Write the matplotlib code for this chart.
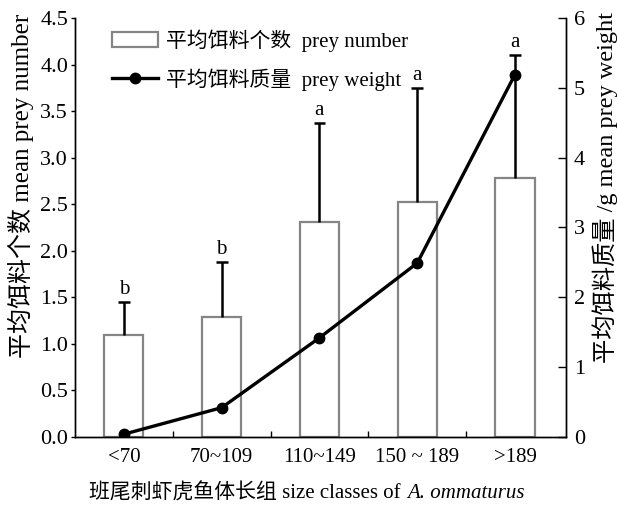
import matplotlib
matplotlib.use("Agg")
import matplotlib.pyplot as plt
import numpy as np

plt.rcParams["font.family"] = ["Liberation Serif", "Noto Sans CJK SC"]

# 数据
categories = ["<70", "70~109", "110~149", "150 ~ 189", ">189"]
prey_number = [1.10, 1.29, 2.31, 2.52, 2.78]
prey_number_err = [0.35, 0.59, 1.06, 1.23, 1.32]
prey_weight = [0.04, 0.42, 1.42, 2.49, 5.19]
letters = ["b", "b", "a", "a", "a"]

x = np.arange(len(categories))
tops = np.array(prey_number) + np.array(prey_number_err)

fig = plt.figure(figsize=(6.17, 5.08), dpi=100)
ax = fig.add_axes([0.1216, 0.1398, 0.7954, 0.8248])
ax2 = ax.twinx()

ax.bar(x, prey_number, width=0.4, color="white", edgecolor="#858585", linewidth=1.6,
       label="平均饵料个数  prey number", zorder=2)
# 只画向上的误差线
ax.vlines(x, prey_number, tops, color="black", linewidth=1.8, zorder=3)
ax.hlines(tops, x - 0.06, x + 0.06, color="black", linewidth=1.8, zorder=3)
for xi, t, lab in zip(x, tops, letters):
    ax.text(xi, t + 0.03, lab, ha="center", va="bottom", fontsize=15)

ln, = ax2.plot(x, prey_weight, color="black", linewidth=2.4, marker="o", markersize=7.5,
               label="平均饵料质量  prey weight", zorder=4)

ax.set_xlim(-0.5, 4.52)
ax.set_ylim(0, 4.5)
ax2.set_ylim(0, 6)
yt = np.arange(0, 4.6, 0.5)
ax.set_yticks(yt)
ax.set_yticklabels([f"{v:.1f}" for v in yt])
ax2.set_yticks(range(7))

ax.set_xticks(x)
ax.set_xticklabels(categories)
ax.set_xticks(x[:-1] + 0.5, minor=True)
ax.tick_params(axis="x", which="major", length=0, labelsize=15, pad=8)
ax.tick_params(axis="x", which="minor", direction="in", length=4, width=1)
ax.tick_params(axis="y", direction="out", length=3, width=1, labelsize=16, pad=2)
ax2.tick_params(axis="y", direction="in", length=6, width=1, labelsize=16, pad=6)

for a in (ax, ax2):
    a.spines["top"].set_visible(False)
    for s in ("left", "right", "bottom"):
        a.spines[s].set_linewidth(1.0)

ax.set_ylabel("平均饵料个数 mean prey number", fontsize=18)
ax2.set_ylabel("平均饵料质量 /g mean prey weight", fontsize=17.5)
ax.yaxis.set_label_coords(-0.084, 0.6)
ax2.yaxis.set_label_coords(1.055, 0.595)

# x 轴标题（学名为斜体）
fig.text(406 / 617, 1 - 493 / 508, "班尾刺虾虎鱼体长组 size classes of ", ha="right",
         va="center", fontsize=15)
fig.text(407 / 617, 1 - 493 / 508, "A. ommaturus", ha="left", va="center",
         fontsize=15, style="italic")

h1, l1 = ax.get_legend_handles_labels()
ax.legend(h1 + [ln], l1 + [ln.get_label()], loc="upper left", bbox_to_anchor=(0.05, 1.003),
          frameon=False, fontsize=15, handlelength=2.2, handleheight=0.8,
          handletextpad=0.4, labelspacing=0.8, borderaxespad=0.2)

fig.savefig("out.png", dpi=100)
